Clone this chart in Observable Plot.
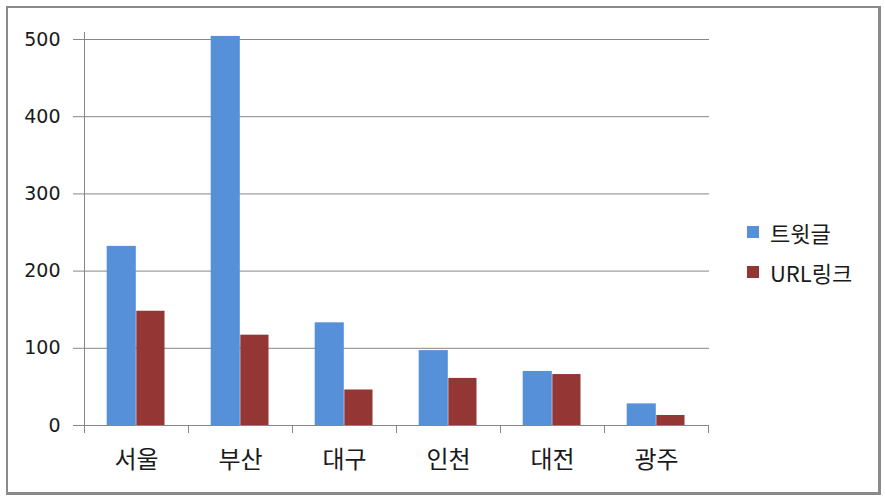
<!DOCTYPE html>
<html><head><meta charset="utf-8">
<script src="https://cdn.jsdelivr.net/npm/d3@7"></script>
<script src="https://cdn.jsdelivr.net/npm/@observablehq/plot@0.6"></script>
<style>
body{margin:0;background:#fff;}
#wrap{position:relative;width:885px;height:498px;font-family:"Noto Sans CJK KR","Noto Sans",sans-serif;overflow:hidden;}
#border{position:absolute;left:6px;top:6px;width:870px;height:484px;border-style:solid;border-color:#8a8a8a;border-width:2px 3px 3px 2px;pointer-events:none;}
#legend{position:absolute;left:747px;top:212px;font-size:22px;color:#1a1a1a;}
#legend .row{display:flex;align-items:center;height:40px;}
#legend .sw{width:12px;height:12px;margin-right:11px;}
#chart svg{display:block;}
</style></head>
<body>
<div id="wrap"><div id="chart"></div><div id="legend"></div><div id="border"></div></div>
<script>
const cities = ["서울","부산","대구","인천","대전","광주"];
const seriesNames = ["트윗글","URL링크"];
const tweets = [232, 504, 133, 97, 70, 28];
const urls = [148, 117, 46, 61, 66, 13];
const yTicks = [0, 100, 200, 300, 400, 500];
const colors = ["#5590D8", "#943634"];

const tweetData = cities.map((c, i) => ({city: c, series: seriesNames[0], value: tweets[i]}));
const urlData = cities.map((c, i) => ({city: c, series: seriesNames[1], value: urls[i]}));

const axisLines = (index, {x, y}) => {
  const g = d3.create("svg:g").attr("stroke", "#868686").attr("shape-rendering", "crispEdges");
  const x0 = x(cities[0]);
  const bw = x(cities[1]) - x(cities[0]);
  const y0 = y(0);
  for (let i = 0; i <= cities.length; i++) {
    const xx = x0 + i * bw;
    g.append("line").attr("x1", xx).attr("x2", xx).attr("y1", y0).attr("y2", y0 + 8);
  }
  g.append("line").attr("x1", x0).attr("x2", x0).attr("y1", y(500) - 7).attr("y2", y0);
  return g.node();
};

const chart = Plot.plot({
  width: 885,
  height: 498,
  marginLeft: 82,
  marginRight: 176,
  marginTop: 39,
  marginBottom: 73,
  style: {fontFamily: '"Noto Sans CJK KR","Noto Sans",sans-serif', background: "transparent", color: "#1a1a1a"},
  x: {domain: cities, padding: 0, axis: null},
  y: {domain: [0, 500], axis: null},
  marks: [
    Plot.gridY(yTicks, {stroke: "#868686", strokeOpacity: 1}),
    Plot.barY(tweetData, {x: "city", y: "value", fill: colors[0], insetLeft: 22.7, insetRight: 52.2}),
    Plot.barY(urlData, {x: "city", y: "value", fill: colors[1], insetLeft: 52.3, insetRight: 23.5}),
    Plot.axisY(yTicks, {tickSize: 9, tickPadding: 13, stroke: "#868686", fill: "#1a1a1a", fontSize: 19, fontFamily: '"DejaVu Sans",sans-serif', label: null}),
    Plot.axisX({tickSize: 0, tickPadding: 25, fontSize: 24, fill: "#1a1a1a", label: null}),
    axisLines
  ]
});
document.getElementById("chart").appendChild(chart);

const legend = document.getElementById("legend");
seriesNames.forEach((s, i) => {
  const row = document.createElement("div");
  row.className = "row";
  const sw = document.createElement("div");
  sw.className = "sw";
  sw.style.background = colors[i];
  const t = document.createElement("span");
  t.textContent = s;
  row.appendChild(sw);
  row.appendChild(t);
  legend.appendChild(row);
});
</script>
</body></html>
